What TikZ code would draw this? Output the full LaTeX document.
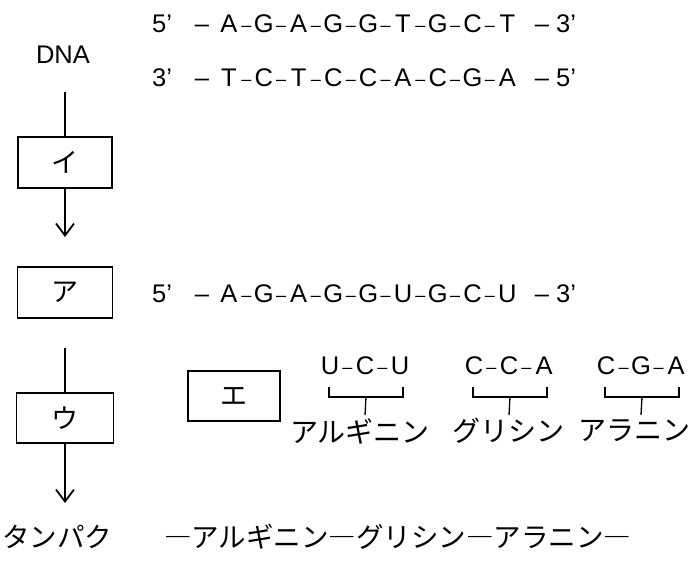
\documentclass[tikz,border=0pt]{standalone}
\usepackage{fontspec}
\setmainfont{Liberation Sans}
\newfontfamily\jp{Noto Sans CJK JP}
\usetikzlibrary{arrows.meta}
\begin{document}
\begin{tikzpicture}[x=1pt,y=-1pt,
  lat/.style={font=\fontsize{25.5}{28}\selectfont, inner sep=0pt, anchor=base},
  dsh/.style={font=\fontsize{18}{20}\selectfont, inner sep=0pt, anchor=base},
  jpt/.style={font=\jp\fontsize{27.5}{30}\selectfont, inner sep=0pt},
  lab/.style={font=\jp\fontsize{28}{30}\selectfont, inner sep=0pt},
  stepbox/.style={draw, line width=1.4pt, inner sep=0pt, font=\jp\fontsize{27}{28}\selectfont},
  conn/.style={line width=1.8pt},
  arr/.style={conn, -{Straight Barb[length=12pt,width=18pt,line width=1.8pt]}},
  brk/.style={line width=1.3pt}]
\useasboundingbox (0,0) rectangle (694,563);
% left column
\node[lat] (dna) at (63,63) {DNA};
\coordinate (dnaline) at (65,92);
\node[stepbox, minimum width=94pt, minimum height=51pt] (i) at (65,162.5) {イ};
\coordinate (iend) at (65,237);
\node[stepbox, minimum width=95pt, minimum height=51pt] (a) at (65,292.5) {ア};
\coordinate (uline) at (65,348);
\node[stepbox, minimum width=97pt, minimum height=50pt] (u) at (65,418) {ウ};
\coordinate (uend) at (65,503);
\node[stepbox, minimum width=92pt, minimum height=50pt] (e) at (234,396) {エ};
\draw[conn] (dnaline) -- (i.north);
\draw[arr] (i.south) -- (iend);
\draw[conn] (uline) -- (u.north);
\draw[arr] (u.south) -- (uend);
% sequences
\foreach \row/\yy/\pre/\suf/\seq in {r1/32/5/3/{A,G,A,G,G,T,G,C,T}, r2/86/3/5/{T,C,T,C,C,A,C,G,A}, r3/302/5/3/{A,G,A,G,G,U,G,C,U}}{
  \node[lat] (\row-p) at (162,\yy) {\pre’};
  \node[lat] (\row-d0) at (202,\yy) {–};
  \foreach \l [count=\k from 0] in \seq {
    \node[lat] (\row-\k) at (229+34.8*\k,\yy) {\l};
  }
  \foreach \k in {0,...,7} {
    \node[dsh] (\row-h\k) at (229+34.8*\k+17.4,\yy-1) {–};
  }
  \node[lat] (\row-d1) at (542,\yy) {–};
  \node[lat] (\row-s) at (566,\yy) {\suf’};
}
% codons
\foreach \c/\cx/\seq in {c1/365/{U,C,U}, c2/509/{C,C,A}, c3/641/{C,G,A}}{
  \foreach \l [count=\k from 0] in \seq {
    \node[lat] (\c-\k) at (\cx-35+35*\k,374) {\l};
  }
  \node[dsh] (\c-h0) at (\cx-17.5,373) {–};
  \node[dsh] (\c-h1) at (\cx+17.5,373) {–};
  \coordinate (\c-stem) at (\cx,415);
  \draw[brk] (\cx-36,387) -- (\cx-36,397) -- (\cx+38,397) -- (\cx+38,387);
  \draw[brk] (\cx+1,397) -- (\c-stem);
}
\node[lab] (n1) at (360,431) {アルギニン};
\node[lab] (n2) at (508,431) {グリシン};
\node[lab] (n3) at (634,431) {アラニン};
% protein
\node[jpt] (prot) at (57,537) {タンパク};
\node[jpt, anchor=west] (chain) at (164,537) {―アルギニン―グリシン―アラニン―};
\end{tikzpicture}
\end{document}
